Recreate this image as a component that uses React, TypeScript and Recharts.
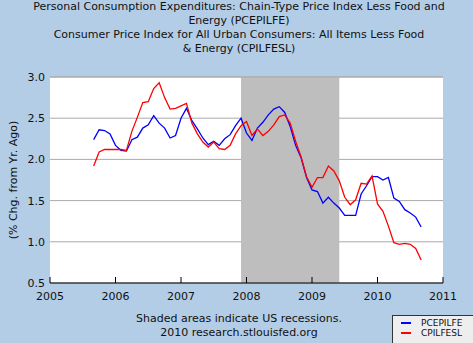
import React from 'react';
import { LineChart, Line, XAxis, YAxis, CartesianGrid, ReferenceArea, ReferenceLine } from 'recharts';

// monthly % change from year ago, Sep 2005 .. Sep 2010
const startYear = 2005;
const startMonth = 9;

const pcepilfe = [
  2.24, 2.36, 2.35, 2.31, 2.17, 2.11, 2.10, 2.24, 2.27, 2.38, 2.42, 2.53,
  2.44, 2.38, 2.26, 2.29, 2.50, 2.62, 2.47, 2.37, 2.26, 2.18, 2.22, 2.17,
  2.25, 2.30, 2.41, 2.50, 2.32, 2.23, 2.38, 2.45, 2.54, 2.61, 2.64, 2.57,
  2.40, 2.17, 2.02, 1.78, 1.63, 1.61, 1.47, 1.54, 1.47, 1.41, 1.32, 1.32,
  1.32, 1.58, 1.68, 1.79, 1.79, 1.75, 1.78, 1.53, 1.49, 1.39, 1.35, 1.30,
  1.18,
];

const cpilfesl = [
  1.92, 2.09, 2.12, 2.12, 2.12, 2.12, 2.11, 2.34, 2.51, 2.69, 2.70, 2.86,
  2.93, 2.75, 2.61, 2.62, 2.65, 2.68, 2.44, 2.31, 2.21, 2.15, 2.21, 2.13,
  2.12, 2.17, 2.31, 2.41, 2.46, 2.29, 2.37, 2.29, 2.34, 2.42, 2.52, 2.54,
  2.44, 2.22, 2.03, 1.79, 1.66, 1.78, 1.78, 1.92, 1.86, 1.74, 1.54, 1.45,
  1.51, 1.71, 1.70, 1.80, 1.46, 1.37, 1.19, 0.99, 0.97, 0.98, 0.97, 0.92,
  0.78,
];

const yearTicks = [2005, 2006, 2007, 2008, 2009, 2010, 2011];
const valueTicks = [0.5, 1.0, 1.5, 2.0, 2.5, 3.0];
const recession = [2007 + 11 / 12, 2009 + 5 / 12];

const titleLines = [
  'Personal Consumption Expenditures: Chain-Type Price Index Less Food and',
  'Energy (PCEPILFE)',
  'Consumer Price Index for All Urban Consumers: All Items Less Food',
  '& Energy (CPILFESL)',
];

const data = pcepilfe.map((v, i) => ({
  t: startYear + (startMonth - 1 + i) / 12,
  PCEPILFE: v,
  CPILFESL: cpilfesl[i],
}));

const FONT = '"DejaVu Sans", Verdana, sans-serif';
const BG = '#B3CDE6';

const YearTick = (props: any) => {
  const { x, y, payload } = props;
  return (
    <g>
      <line x1={x} x2={x} y1={y - 6} y2={y} stroke="#000" />
      <text x={x} y={y + 17} textAnchor="middle" fontFamily={FONT} fontSize={11} fill="#111">
        {payload.value}
      </text>
    </g>
  );
};

export default function App() {
  return (
    <div style={{ position: 'fixed', left: 0, top: 0, width: 473, height: 343, background: BG, fontFamily: FONT, color: '#111', overflow: 'hidden' }}>
      <div style={{ position: 'absolute', left: 0, top: 0, width: 478, textAlign: 'center', fontSize: 11, lineHeight: '14px' }}>
        {titleLines.map((l) => (
          <div key={l}>{l}</div>
        ))}
      </div>
      <LineChart width={473} height={343} data={data} margin={{ top: 77, right: 30, bottom: 40, left: 0 }}>
        <CartesianGrid horizontal vertical={false} stroke="#AAAAAA" fill="#fff" />
        <ReferenceArea x1={recession[0]} x2={recession[1]} y1={0.5} y2={3.0} fill="#BEBEBE" fillOpacity={1} stroke="none" />
        <ReferenceLine y={3.0} stroke="#AAAAAA" />
        <XAxis
          type="number"
          dataKey="t"
          domain={[2005, 2011]}
          ticks={yearTicks}
          height={20}
          tickSize={0}
          tickMargin={0}
          tick={<YearTick />}
          axisLine={{ stroke: '#000' }}
          tickLine={false}
        />
        <YAxis
          domain={[0.5, 3.0]}
          ticks={valueTicks}
          width={50}
          tickSize={0}
          tickMargin={5}
          axisLine={false}
          tickLine={false}
          tickFormatter={(v: number) => v.toFixed(1)}
          tick={{ fontFamily: FONT, fontSize: 11, fill: '#111' }}
        />
        <Line type="linear" dataKey="PCEPILFE" stroke="#0000FF" strokeWidth={1.3} dot={false} isAnimationActive={false} />
        <Line type="linear" dataKey="CPILFESL" stroke="#FF0000" strokeWidth={1.3} dot={false} isAnimationActive={false} />
      </LineChart>
      <div style={{ position: 'absolute', left: 13, top: 180, transform: 'translate(-50%, -50%) rotate(-90deg)', whiteSpace: 'nowrap', fontSize: 11 }}>
        (% Chg. from Yr. Ago)
      </div>
      <div style={{ position: 'absolute', left: 0, top: 312, width: 478, textAlign: 'center', fontSize: 11, lineHeight: '14px' }}>
        <div>Shaded areas indicate US recessions.</div>
        <div>2010 research.stlouisfed.org</div>
      </div>
      <div style={{ position: 'absolute', left: 392, top: 315, width: 90, height: 40, background: '#EEEEEE', border: '1px solid #333', fontSize: 9 }}>
        {[
          { name: 'PCEPILFE', color: '#0000FF' },
          { name: 'CPILFESL', color: '#FF0000' },
        ].map((s, i) => (
          <div key={s.name} style={{ position: 'absolute', left: 0, top: 1 + i * 10.5, height: 11, display: 'flex', alignItems: 'center' }}>
            <span style={{ display: 'inline-block', marginLeft: 8, width: 10, height: 2, background: s.color }} />
            <span style={{ marginLeft: 10 }}>{s.name}</span>
          </div>
        ))}
      </div>
    </div>
  );
}
